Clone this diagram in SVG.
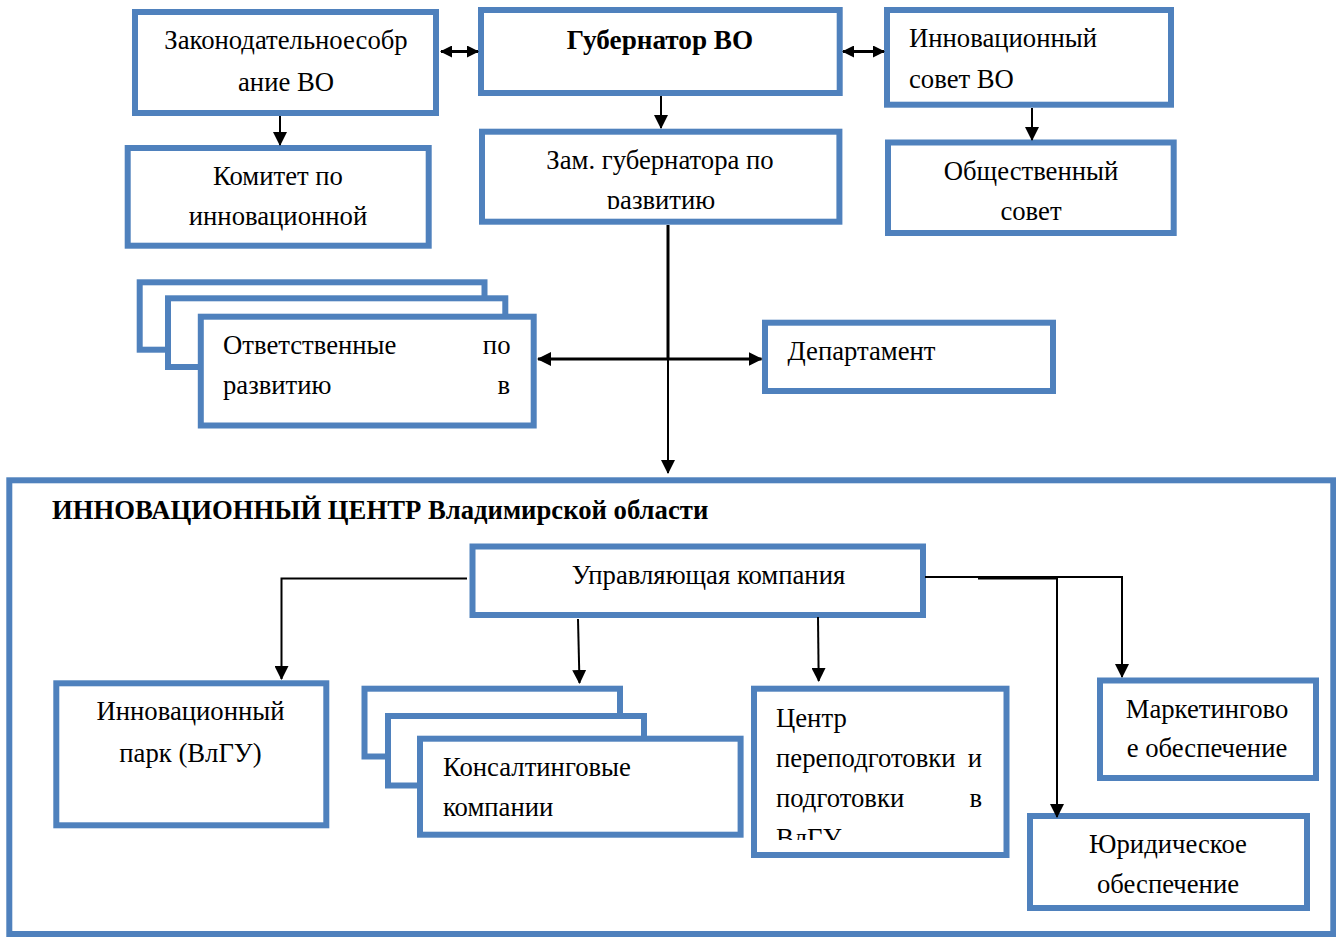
<svg xmlns="http://www.w3.org/2000/svg" width="1336" height="937" viewBox="0 0 1336 937">
<style>
.box{fill:#fff;stroke:#4F81BD;stroke-width:6}
.t{font-family:"Liberation Serif","Times New Roman",serif;font-size:26.7px;fill:#000}
.c{text-anchor:middle}
.b{font-weight:bold;font-size:27.2px}
.ttl{font-weight:bold;font-size:26.7px}
.ln{fill:none;stroke:#000;stroke-width:2}
.lt{fill:none;stroke:#000;stroke-width:3}
</style>
<defs>
<marker id="ah" viewBox="0 0 14 14" refX="13" refY="7" markerWidth="14" markerHeight="14" markerUnits="userSpaceOnUse" orient="auto-start-reverse">
<path d="M0,0 L14,7 L0,14 z" fill="#000"/>
</marker>
<marker id="as" viewBox="0 0 12 12" refX="11" refY="6" markerWidth="12" markerHeight="12" markerUnits="userSpaceOnUse" orient="auto-start-reverse">
<path d="M0,0 L12,6 L0,12 z" fill="#000"/>
</marker>
<clipPath id="clipZam"><rect x="482" y="131" width="357" height="78"/></clipPath>
<clipPath id="clipCentr"><rect x="754" y="688" width="252" height="152"/></clipPath>
</defs>

<g id="container">
<rect class="box" x="9.3" y="480.3" width="1324" height="453.7"/>
<text class="t ttl" x="52" y="519">ИННОВАЦИОННЫЙ ЦЕНТР Владимирской области</text>
</g>

<g id="zakonodatelnoe">
<rect class="box" x="135" y="12" width="301" height="101"/>
<text class="t c" x="286" y="48.5">Законодательноесобр</text>
<text class="t c" x="286" y="90.5">ание ВО</text>
</g>

<g id="gubernator">
<rect class="box" x="481" y="10" width="358.7" height="83"/>
<text class="t c b" x="660" y="49">Губернатор ВО</text>
</g>

<g id="innovatsionny-sovet">
<rect class="box" x="887" y="10" width="284" height="94.7"/>
<text class="t" x="909" y="47">Инновационный</text>
<text class="t" x="909" y="87.5">совет ВО</text>
</g>

<g id="komitet">
<rect class="box" x="127.7" y="148" width="301" height="97.7"/>
<text class="t c" x="278" y="185">Комитет по</text>
<text class="t c" x="278" y="225">инновационной</text>
</g>

<g id="zam-gubernatora">
<rect class="box" x="482" y="131.7" width="357.4" height="90"/>
<g clip-path="url(#clipZam)">
<text class="t c" x="660" y="168.5">Зам. губернатора по</text>
<text class="t c" x="661" y="208.5">развитию</text>
</g>
</g>

<g id="obshchestvenny-sovet">
<rect class="box" x="888" y="142.5" width="285.7" height="90.5"/>
<text class="t c" x="1031" y="180">Общественный</text>
<text class="t c" x="1031" y="219.5">совет</text>
</g>

<g id="otvetstvennye">
<rect class="box" x="139.7" y="282.3" width="344.8" height="67.4"/>
<rect class="box" x="168" y="298.3" width="337.3" height="68.7"/>
<rect class="box" x="200.8" y="316.7" width="332.9" height="108.8"/>
<text class="t"><tspan x="223" y="353.5">Ответственные</tspan><tspan x="510.5" y="353.5" text-anchor="end">по</tspan></text>
<text class="t"><tspan x="223" y="393.5">развитию</tspan><tspan x="510" y="393.5" text-anchor="end">в</tspan></text>
</g>

<g id="departament">
<rect class="box" x="765" y="322.7" width="288" height="68.3"/>
<text class="t" x="787.5" y="360">Департамент</text>
</g>

<g id="upravlyayushchaya">
<rect class="box" x="472.5" y="546.5" width="450.5" height="68.5"/>
<text class="t c" x="708.5" y="583.5">Управляющая компания</text>
</g>

<g id="innovatsionny-park">
<rect class="box" x="56.3" y="683.3" width="270" height="142"/>
<text class="t c" x="190.5" y="720">Инновационный</text>
<text class="t c" x="190.5" y="761.5">парк (ВлГУ)</text>
</g>

<g id="konsaltingovye">
<rect class="box" x="364.5" y="688.7" width="255.5" height="67.8"/>
<rect class="box" x="388" y="716" width="256" height="69.5"/>
<rect class="box" x="420" y="738.7" width="320.6" height="96"/>
<text class="t" x="443" y="776">Консалтинговые</text>
<text class="t" x="443" y="816">компании</text>
</g>

<g id="tsentr">
<rect class="box" x="754" y="688.7" width="252.5" height="166.3"/>
<g clip-path="url(#clipCentr)">
<text class="t" x="776" y="726.5">Центр</text>
<text class="t"><tspan x="776" y="766.5">переподготовки</tspan><tspan x="982" y="766.5" text-anchor="end">и</tspan></text>
<text class="t"><tspan x="776" y="806.5">подготовки</tspan><tspan x="982" y="806.5" text-anchor="end">в</tspan></text>
<text class="t" x="776" y="846.5">ВлГУ</text>
</g>
</g>

<g id="marketingovoe">
<rect class="box" x="1100" y="680.5" width="216" height="97.5"/>
<text class="t c" x="1207" y="718">Маркетингово</text>
<text class="t c" x="1207" y="757">е обеспечение</text>
</g>

<g id="yuridicheskoe">
<rect class="box" x="1030" y="816" width="277" height="92"/>
<text class="t c" x="1168" y="853">Юридическое</text>
<text class="t c" x="1168" y="892.5">обеспечение</text>
</g>

<g id="connectors">
<line class="lt" x1="441" y1="51.5" x2="478" y2="51.5" marker-start="url(#as)" marker-end="url(#as)"/>
<line class="lt" x1="843" y1="51.5" x2="884" y2="51.5" marker-start="url(#as)" marker-end="url(#as)"/>
<line class="ln" x1="280" y1="116" x2="280" y2="145" marker-end="url(#ah)"/>
<line class="ln" x1="661" y1="96" x2="661" y2="128" marker-end="url(#ah)"/>
<line class="ln" x1="1032" y1="108" x2="1032" y2="140" marker-end="url(#ah)"/>
<line class="lt" x1="668" y1="225" x2="668" y2="359"/>
<line class="ln" x1="668" y1="359" x2="668" y2="473" marker-end="url(#ah)"/>
<line class="lt" x1="668" y1="359" x2="538" y2="359" marker-end="url(#ah)"/>
<line class="lt" x1="668" y1="359" x2="761.5" y2="359" marker-end="url(#ah)"/>
<polyline class="ln" points="467,578.5 281.5,578.5 281.5,679" marker-end="url(#ah)"/>
<line class="ln" x1="578" y1="619" x2="579.5" y2="683" marker-end="url(#ah)"/>
<line class="ln" x1="818" y1="617" x2="818.7" y2="681" marker-end="url(#ah)"/>
<polyline class="ln" points="925,577 1122,577 1122,677" marker-end="url(#ah)"/>
<polyline class="ln" points="978,578.5 1057,578.5 1057,817" marker-end="url(#ah)"/>
</g>
</svg>
